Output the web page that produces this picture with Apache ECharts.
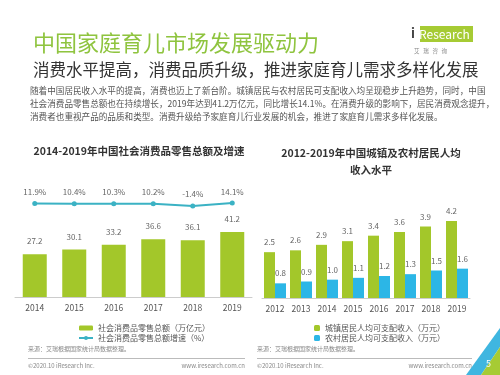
<!DOCTYPE html>
<html>
<head>
<meta charset="utf-8">
<script src="https://cdn.jsdelivr.net/npm/echarts@6/dist/echarts.min.js"></script>
<style>
  html, body { margin: 0; padding: 0; background: #fff; }
</style>
</head>
<body>
<div id="main" style="width:500px;height:375px;"></div>
<script>
// 左图：社会消费品零售总额及增速
var years1 = ['2014', '2015', '2016', '2017', '2018', '2019'];
var retailTotal = [27.2, 30.1, 33.2, 36.6, 36.1, 41.2];
var retailGrowth = [11.9, 10.4, 10.3, 10.2, -1.4, 14.1];

// 右图：城镇及农村居民人均可支配收入
var years2 = ['2012', '2013', '2014', '2015', '2016', '2017', '2018', '2019'];
var urbanIncome = [2.5, 2.6, 2.9, 3.1, 3.4, 3.6, 3.9, 4.2];
var ruralIncome = [0.8, 0.9, 1.0, 1.1, 1.2, 1.3, 1.5, 1.6];

var paraLines = [
  '随着中国居民收入水平的提高，消费也迈上了新台阶。城镇居民与农村居民可支配收入均呈现稳步上升趋势，同时，中国',
  '社会消费品零售总额也在持续增长，2019年达到41.2万亿元，同比增长14.1%。在消费升级的影响下，居民消费观念提升，',
  '消费者也重视产品的品质和类型。消费升级给予家庭育儿行业发展的机会，推进了家庭育儿需求多样化发展。'
];

var FONT = '"Noto Sans CJK SC", "Noto Sans", sans-serif';
var GREEN = '#a3c72a';
var TEAL = '#3bb2c4';
var BLUE = '#2cb6e6';

var chart = echarts.init(document.getElementById('main'));

var graphics = [];
// 说明文字
paraLines.forEach(function (t, i) {
  graphics.push({
    type: 'text', left: 30, top: 86 + i * 13,
    style: { text: t, font: '8.6px ' + FONT, fill: '#555' }
  });
});
// logo
graphics.push({
  type: 'rect', left: 420, top: 26, z: 5,
  shape: { width: 53, height: 16 },
  style: { fill: '#a6cb34' }
});
graphics.push({
  type: 'text', left: 411, top: 27, z: 10,
  style: { text: 'i', font: 'bold 13px ' + FONT, fill: '#444' }
});
graphics.push({
  type: 'text', left: 419, top: 28, z: 10,
  style: { text: 'Research', font: '12px ' + FONT, fill: '#fff' }
});
graphics.push({
  type: 'text', left: 414, top: 48,
  style: { text: '艾   瑞   咨   询', font: '5.5px ' + FONT, fill: '#888' }
});
// 来源 & 页脚
[[28, 245], [257, 472]].forEach(function (p) {
  graphics.push({
    type: 'text', left: p[0], top: 346,
    style: { text: '来源：艾瑞根据国家统计局数据整理。', font: '6px ' + FONT, fill: '#888' }
  });
  graphics.push({
    type: 'line', shape: { x1: p[0], y1: 358.5, x2: p[1], y2: 358.5 },
    style: { stroke: '#bbb', lineWidth: 1 }
  });
  graphics.push({
    type: 'text', left: p[0], top: 363,
    style: { text: '©2020.10 iResearch Inc.', font: '6px ' + FONT, fill: '#888' }
  });
  graphics.push({
    type: 'text', right: 500 - p[1], top: 363,
    style: { text: 'www.iresearch.com.cn', font: '6px ' + FONT, fill: '#888' }
  });
});
// 右下角装饰
graphics.push({
  type: 'polygon', left: 466, top: 328, z: 5,
  shape: { points: [[0, 47], [34, 0], [34, 19], [15, 47]] },
  style: { fill: '#3fb6e0' }
});
graphics.push({
  type: 'polygon', left: 481, top: 347, z: 6,
  shape: { points: [[0, 28], [19, 0], [19, 28]] },
  style: { fill: '#a6cb34' }
});
graphics.push({
  type: 'text', left: 486, top: 359, z: 10,
  style: { text: '5', font: '9px ' + FONT, fill: '#fff' }
});

var option = {
  backgroundColor: '#fff',
  textStyle: { fontFamily: FONT },
  animation: false,
  title: [
    {
      text: '中国家庭育儿市场发展驱动力', left: 28, top: 27,
      textStyle: { fontSize: 22, fontWeight: 'normal', color: '#8fc43f', fontFamily: FONT }
    },
    {
      text: '消费水平提高，消费品质升级，推进家庭育儿需求多样化发展', left: 28, top: 56,
      textStyle: { fontSize: 16.5, fontWeight: 'normal', color: '#333', fontFamily: FONT }
    },
    {
      text: '2014-2019年中国社会消费品零售总额及增速', left: 134, top: 141, textAlign: 'center',
      textStyle: { fontSize: 10.5, fontWeight: 'bold', color: '#333', fontFamily: FONT }
    },
    {
      text: '2012-2019年中国城镇及农村居民人均\n收入水平', left: 366, top: 140, textAlign: 'center',
      textStyle: { fontSize: 10.5, fontWeight: 'bold', color: '#333', fontFamily: FONT, lineHeight: 17 }
    }
  ],
  legend: [
    {
      left: 78, top: 324, orient: 'vertical', itemGap: 2,
      itemWidth: 14, itemHeight: 5, padding: 0,
      textStyle: { fontSize: 8, color: '#555', lineHeight: 8 },
      data: ['社会消费品零售总额（万亿元）', '社会消费品零售总额增速（%）']
    },
    {
      left: 314, top: 324, orient: 'vertical', itemGap: 2,
      itemWidth: 6, itemHeight: 6, padding: 0,
      textStyle: { fontSize: 8, color: '#555', lineHeight: 8 },
      data: ['城镇居民人均可支配收入（万元）', '农村居民人均可支配收入（万元）']
    }
  ],
  grid: [
    { left: 15, top: 160, width: 237, height: 137 },
    { left: 262, top: 188, width: 208, height: 110 }
  ],
  xAxis: [
    {
      type: 'category', gridIndex: 0, data: years1,
      axisLine: { lineStyle: { color: '#ccc' } }, axisTick: { show: false },
      axisLabel: { fontSize: 8.5, color: '#555', margin: 7 }
    },
    {
      type: 'category', gridIndex: 1, data: years2,
      axisLine: { lineStyle: { color: '#ccc' } }, axisTick: { show: false },
      axisLabel: { fontSize: 8.5, color: '#555', margin: 7 }
    }
  ],
  yAxis: [
    { type: 'value', gridIndex: 0, min: 0, max: 87, show: false },
    { type: 'value', gridIndex: 0, min: -480, max: 240, show: false },
    { type: 'value', gridIndex: 1, min: 0, max: 6, show: false }
  ],
  series: [
    {
      name: '社会消费品零售总额（万亿元）', type: 'bar',
      xAxisIndex: 0, yAxisIndex: 0, data: retailTotal, barWidth: 24,
      itemStyle: { color: GREEN },
      label: { show: true, position: 'top', distance: 9, fontSize: 8, color: '#666' }
    },
    {
      name: '社会消费品零售总额增速（%）', type: 'line',
      xAxisIndex: 0, yAxisIndex: 1, data: retailGrowth,
      symbol: 'circle', symbolSize: 5,
      lineStyle: { color: TEAL, width: 2 }, itemStyle: { color: TEAL },
      label: { show: true, position: 'top', distance: 5, fontSize: 8, color: '#666', formatter: '{c}%' }
    },
    {
      name: '城镇居民人均可支配收入（万元）', type: 'bar',
      xAxisIndex: 1, yAxisIndex: 2, data: urbanIncome, barWidth: 11, barGap: '0%',
      itemStyle: { color: GREEN },
      label: { show: true, position: 'top', distance: 6, fontSize: 8, color: '#666', formatter: function (p) { return p.value.toFixed(1); } }
    },
    {
      name: '农村居民人均可支配收入（万元）', type: 'bar',
      xAxisIndex: 1, yAxisIndex: 2, data: ruralIncome, barWidth: 11, barGap: '0%',
      itemStyle: { color: BLUE },
      label: { show: true, position: 'top', distance: 6, fontSize: 8, color: '#666', formatter: function (p) { return p.value.toFixed(1); } }
    }
  ],
  graphic: graphics
};

chart.setOption(option);
</script>
</body>
</html>
